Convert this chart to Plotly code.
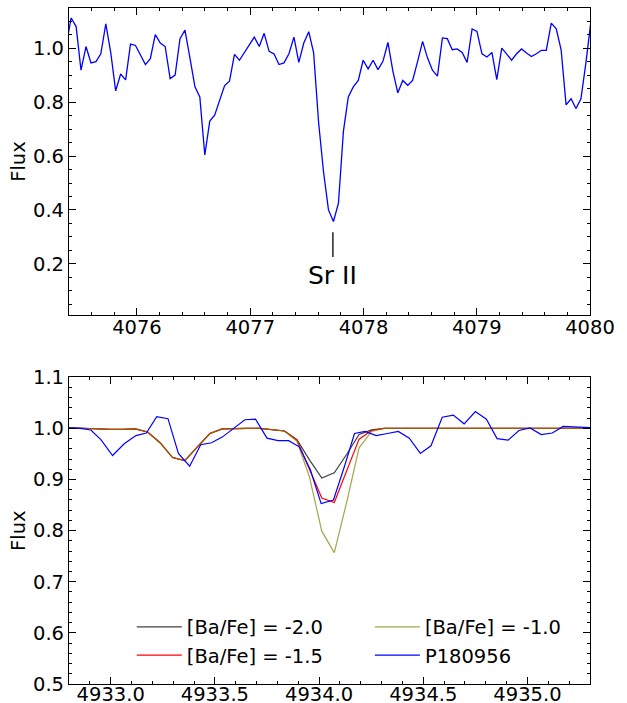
import plotly.graph_objects as go

# ---------------- top panel: Sr II 4077 region ----------------
wave_sr = [
    4075.375, 4075.419, 4075.463, 4075.506, 4075.550, 4075.594, 4075.638, 4075.681,
    4075.725, 4075.769, 4075.812, 4075.856, 4075.900, 4075.943, 4075.987, 4076.031,
    4076.075, 4076.118, 4076.162, 4076.206, 4076.249, 4076.293, 4076.337, 4076.380,
    4076.424, 4076.468, 4076.512, 4076.555, 4076.599, 4076.643, 4076.686, 4076.730,
    4076.774, 4076.817, 4076.861, 4076.905, 4076.949, 4076.992, 4077.036, 4077.080,
    4077.123, 4077.167, 4077.211, 4077.254, 4077.298, 4077.342, 4077.386, 4077.429,
    4077.473, 4077.517, 4077.560, 4077.604, 4077.648, 4077.691, 4077.735, 4077.779,
    4077.823, 4077.866, 4077.910, 4077.954, 4077.997, 4078.041, 4078.085, 4078.128,
    4078.172, 4078.216, 4078.260, 4078.303, 4078.347, 4078.391, 4078.434, 4078.478,
    4078.522, 4078.565, 4078.609, 4078.653, 4078.697, 4078.740, 4078.784, 4078.828,
    4078.871, 4078.915, 4078.959, 4079.002, 4079.046, 4079.090, 4079.134, 4079.177,
    4079.221, 4079.265, 4079.308, 4079.352, 4079.396, 4079.439, 4079.483, 4079.527,
    4079.571, 4079.614, 4079.658, 4079.702, 4079.745, 4079.789, 4079.833, 4079.876,
    4079.920, 4079.964, 4080.008,
]
flux_sr = [
    1.010, 1.113, 1.081, 0.919, 1.007, 0.946, 0.951, 0.980,
    1.091, 0.983, 0.842, 0.905, 0.883, 1.016, 1.011, 0.975,
    0.940, 0.962, 1.051, 1.020, 1.007, 0.888, 0.901, 1.036,
    1.068, 0.964, 0.857, 0.820, 0.604, 0.730, 0.752, 0.807,
    0.862, 0.878, 0.978, 0.956, 0.985, 1.014, 1.042, 1.007,
    1.056, 0.989, 0.979, 0.940, 0.946, 0.980, 1.042, 0.948,
    1.020, 1.062, 0.983, 0.724, 0.539, 0.400, 0.357, 0.425,
    0.693, 0.820, 0.857, 0.881, 0.956, 0.924, 0.956, 0.921,
    0.952, 1.022, 0.915, 0.835, 0.881, 0.863, 0.881, 0.952,
    1.026, 0.965, 0.919, 0.897, 1.039, 1.036, 0.995, 0.998,
    0.985, 0.948, 1.072, 1.063, 0.980, 0.968, 0.985, 0.884,
    1.001, 0.979, 0.956, 0.980, 0.998, 0.983, 0.970, 0.980,
    0.993, 0.993, 1.094, 1.073, 0.995, 0.790, 0.813, 0.777,
    0.813, 0.946, 1.100,
]
line_label = "Sr II"
line_wave = 4077.73

# ---------------- bottom panel: Ba II 4934 region ----------------
wave_obs = [
    4932.750, 4932.800, 4932.853, 4932.905, 4932.953, 4933.009, 4933.065, 4933.121,
    4933.171, 4933.221, 4933.275, 4933.325, 4933.379, 4933.432, 4933.484, 4933.535,
    4933.591, 4933.644, 4933.695, 4933.750, 4933.803, 4933.854, 4933.905, 4933.958,
    4934.010, 4934.069, 4934.122, 4934.170, 4934.221, 4934.274, 4934.328, 4934.380,
    4934.433, 4934.486, 4934.537, 4934.591, 4934.644, 4934.696, 4934.750, 4934.803,
    4934.854, 4934.907, 4934.959, 4935.012, 4935.066, 4935.119, 4935.171, 4935.226,
    4935.280, 4935.330,
]
flux_obs = [
    1.002, 1.001, 1.000, 0.997, 0.978, 0.947, 0.970, 0.986,
    0.991, 1.023, 1.019, 0.951, 0.926, 0.968, 0.972, 0.983,
    1.001, 1.017, 1.018, 0.981, 0.976, 0.976, 0.964, 0.919,
    0.853, 0.860, 0.926, 0.990, 0.994, 0.986, 0.990, 0.994,
    0.981, 0.951, 0.966, 1.022, 1.026, 1.009, 1.033, 1.018,
    0.980, 0.977, 0.996, 1.001, 0.988, 0.991, 1.004, 1.003,
    1.002, 1.001,
]
wave_syn = [
    4932.759, 4932.819, 4932.879, 4932.938, 4932.998, 4933.058, 4933.118, 4933.177,
    4933.237, 4933.297, 4933.356, 4933.416, 4933.476, 4933.535, 4933.595, 4933.655,
    4933.715, 4933.774, 4933.834, 4933.894, 4933.953, 4934.013, 4934.073, 4934.132,
    4934.192, 4934.252, 4934.312, 4934.371, 4934.700, 4935.000, 4935.400,
]
flux_ba_m20 = [
    1.002, 1.001, 0.999, 0.998, 0.998, 0.998, 0.999, 0.993,
    0.972, 0.943, 0.937, 0.964, 0.990, 0.999, 1.000, 1.000,
    1.000, 0.997, 0.995, 0.978, 0.939, 0.903, 0.913, 0.949,
    0.988, 0.997, 1.000, 1.000, 1.000, 1.000, 1.000,
]
flux_ba_m15 = [
    1.002, 1.001, 0.999, 0.998, 0.998, 0.998, 0.999, 0.993,
    0.972, 0.943, 0.937, 0.964, 0.990, 0.999, 1.000, 1.000,
    1.000, 0.997, 0.995, 0.977, 0.920, 0.864, 0.855, 0.916,
    0.979, 0.996, 1.000, 1.000, 1.000, 1.000, 1.000,
]
flux_ba_m10 = [
    1.002, 1.001, 0.999, 0.998, 0.998, 0.998, 0.999, 0.993,
    0.972, 0.943, 0.937, 0.964, 0.990, 0.999, 1.000, 1.000,
    1.000, 0.997, 0.995, 0.975, 0.906, 0.799, 0.757, 0.855,
    0.962, 0.994, 1.000, 1.000, 1.000, 1.000, 1.000,
]
names = ["[Ba/Fe] = -2.0", "[Ba/Fe] = -1.5", "[Ba/Fe] = -1.0", "P180956"]

FONT = "DejaVu Sans"
FS = 19.5

fig = go.Figure()

fig.add_trace(go.Scatter(x=wave_sr, y=flux_sr, mode="lines", showlegend=False,
                         line=dict(color="#0000ff", width=1.3),
                         xaxis="x", yaxis="y"))

fig.add_trace(go.Scatter(x=wave_syn, y=flux_ba_m20, mode="lines", name=names[0],
                         line=dict(color="#000000", width=1.2), opacity=0.75,
                         legend="legend", legendrank=1,
                         xaxis="x2", yaxis="y2"))
fig.add_trace(go.Scatter(x=wave_syn, y=flux_ba_m15, mode="lines", name=names[1],
                         line=dict(color="#ff0000", width=1.2),
                         legend="legend", legendrank=2,
                         xaxis="x2", yaxis="y2"))
fig.add_trace(go.Scatter(x=wave_syn, y=flux_ba_m10, mode="lines", name=names[2],
                         line=dict(color="#808000", width=1.2), opacity=0.7,
                         legend="legend2", legendrank=1,
                         xaxis="x2", yaxis="y2"))
fig.add_trace(go.Scatter(x=wave_obs, y=flux_obs, mode="lines", name=names[3],
                         line=dict(color="#0000ff", width=1.2),
                         legend="legend2", legendrank=2,
                         xaxis="x2", yaxis="y2"))

axis_common = dict(
    showgrid=False, zeroline=False, showline=True, linecolor="#000000", linewidth=1.2,
    mirror="allticks", ticks="inside", ticklen=7, tickwidth=1.2, tickcolor="#000000",
    tickfont=dict(family=FONT, size=FS, color="#000000"), automargin=False,
)
minor_common = dict(ticks="inside", ticklen=3, tickwidth=1, tickcolor="#000000", showgrid=False)

legend_common = dict(orientation="v", yanchor="top", xanchor="left",
                     bgcolor="rgba(0,0,0,0)", borderwidth=0,
                     font=dict(family=FONT, size=FS, color="#000000"),
                     itemwidth=45, tracegroupgap=0)

fig.update_layout(
    width=627, height=703,
    margin=dict(l=69, r=37, t=8, b=19, autoexpand=False),
    paper_bgcolor="white", plot_bgcolor="white",
    font=dict(family=FONT, size=FS, color="#000000"),
    xaxis=dict(domain=[0, 1], range=[4075.4, 4080.0], dtick=1, tick0=4076,
               anchor="y", ticklabelstandoff=-5,
               minor=dict(dtick=0.2, **minor_common), **axis_common),
    yaxis=dict(domain=[0.5459, 1.0], range=[0.01, 1.15], dtick=0.2, tick0=0,
               tickformat=".1f", anchor="x",
               title=dict(text="Flux", font=dict(family=FONT, size=FS), standoff=2),
               minor=dict(dtick=0.05, **minor_common), **axis_common),
    xaxis2=dict(domain=[0, 1], range=[4932.8, 4935.3], dtick=0.5, tick0=4933.0,
                tickformat=".1f", anchor="y2", ticklabelstandoff=-8,
                minor=dict(dtick=0.1, **minor_common), **axis_common),
    yaxis2=dict(domain=[0, 0.4537], range=[0.5, 1.1], dtick=0.1, tick0=0.5,
                tickformat=".1f", anchor="x2",
                title=dict(text="Flux", font=dict(family=FONT, size=FS), standoff=2),
                minor=dict(dtick=0.02, **minor_common), **axis_common),
    legend=dict(x=0.1205, y=0.113, **legend_common),
    legend2=dict(x=0.5775, y=0.113, **legend_common),
    showlegend=True,
)

fig.add_shape(type="line", xref="x", yref="y", x0=line_wave, x1=line_wave,
              y0=0.225, y1=0.317, line=dict(color="#000000", width=1.3))
fig.add_annotation(x=line_wave, y=0.155, xref="x", yref="y", text=line_label,
                   showarrow=False, font=dict(family=FONT, size=25, color="#000000"))

fig.write_html("out.html", config={"displayModeBar": False},
               post_script="document.body.style.margin='0px';document.body.style.overflow='hidden';")
